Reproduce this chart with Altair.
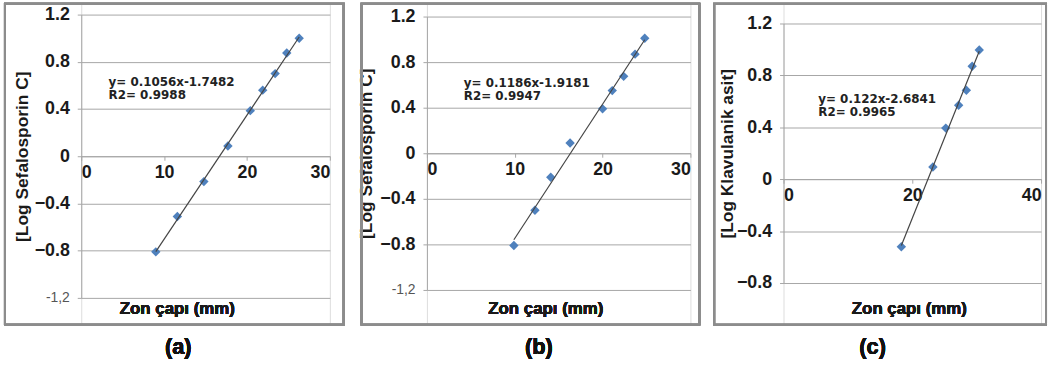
import altair as alt
import pandas as pd

# ---- data ----
a_x = [9.0, 11.6, 14.8, 17.7, 20.4, 21.9, 23.4, 24.8, 26.3]
a_y = [-0.81, -0.51, -0.215, 0.087, 0.386, 0.56, 0.70, 0.875, 1.0]
b_x = [9.9, 12.3, 14.1, 16.3, 20.0, 21.1, 22.4, 23.7, 24.8]
b_y = [-0.81, -0.50, -0.21, 0.09, 0.39, 0.55, 0.675, 0.87, 1.01]
c_x = [18.3, 23.2, 25.2, 27.2, 28.4, 29.3, 30.4]
c_y = [-0.52, 0.094, 0.394, 0.57, 0.686, 0.87, 0.996]

eq_a = ["y= 0.1056x-1.7482", "R2= 0.9988"]
eq_b = ["y= 0.1186x-1.9181", "R2= 0.9947"]
eq_c = ["y= 0.122x-2.6841", "R2= 0.9965"]

ytitle_a = "[Log Sefalosporin C]"
ytitle_b = "[Log Sefalosporin C]"
ytitle_c = "[Log Klavulanik asit]"
xtitle = "Zon çapı (mm)"
panel_labels = ["(a)", "(b)", "(c)"]

FONT = "Liberation Sans"
MARK = "#4f81bd"
GRID = "#a6a6a6"
H = 324  # group height = inner box height


def panel(xs, ys, eq, eq_pos, ytitle, xdom, xticks, ydom, yticks, w,
          yrange, box, xlab_x, plab, plab_x, title_pad):
    df = pd.DataFrame({"x": xs, "y": ys})
    frac0 = (0 - ydom[0]) / (ydom[1] - ydom[0])
    y0 = yrange[0] - (yrange[0] - yrange[1]) * frac0
    xaxis = alt.Axis(values=xticks, grid=False, offset=-(H - y0),
                     title=None, labelFont=FONT, labelFontSize=18,
                     labelFontWeight="bold", labelColor="#1a1a1a",
                     domainColor=GRID, tickColor=GRID, tickSize=4,
                     labelPadding=3)
    yaxis = alt.Axis(values=yticks, grid=True, gridColor=GRID, title=ytitle,
                     labelExpr="abs(datum.value + 1.2) < 0.01 ? '-1,2' : (datum.value == 0 ? '0' : format(datum.value, '.1f'))",
                     labelFont=FONT,
                     labelFontSize={"condition": {"test": "datum.value < -1", "value": 14}, "value": 18},
                     labelFontWeight={"condition": {"test": "datum.value < -1", "value": "normal"}, "value": "bold"},
                     labelColor={"condition": {"test": "datum.value < -1", "value": "#555"}, "value": "#1a1a1a"},
                     labelPadding=8, domainColor=GRID, tickColor=GRID,
                     tickSize=4, titleFont=FONT, titleFontSize=17.5,
                     titleFontWeight="bold", titleColor="#1a1a1a",
                     titlePadding=title_pad)
    xs_ = alt.Scale(domain=xdom, nice=False, zero=False)
    ys_ = alt.Scale(domain=ydom, nice=False, zero=False, range=list(yrange))
    base = alt.Chart(df)
    pts = base.mark_point(shape="diamond", filled=True, size=90,
                          color=MARK, opacity=1).encode(
        x=alt.X("x:Q", scale=xs_, axis=xaxis),
        y=alt.Y("y:Q", scale=ys_, axis=yaxis))
    line = base.transform_regression("x", "y").mark_line(
        color="#444", strokeWidth=1.2).encode(x="x:Q", y="y:Q")
    eqdf = pd.DataFrame({"x": [eq_pos[0]], "y": [eq_pos[1]],
                         "t": [eq[0] + "\n" + eq[1]]})
    eqt = alt.Chart(eqdf).mark_text(
        align="left", baseline="middle", font="DejaVu Sans", fontSize=12,
        fontWeight="bold", color="#222", lineBreak="\n",
        lineHeight=13).encode(x="x:Q", y="y:Q", text="t:N")
    rect = base.mark_rect(fill=None, stroke="#8c8c8c",
                          strokeWidth=2).encode(
        x=alt.value(box[0]), x2=alt.value(box[1]),
        y=alt.value(0), y2=alt.value(H))
    xl = base.mark_text(font=FONT, fontSize=17, fontWeight="bold",
                        color="#1a1a1a", baseline="middle").encode(
        x=alt.value(xlab_x), y=alt.value(H - 16),
        text=alt.value(xtitle))
    pl = base.mark_text(font=FONT, fontSize=22, fontWeight="bold",
                        color="#111", baseline="middle").encode(
        x=alt.value(plab_x), y=alt.value(H + 23),
        text=alt.value(plab))
    return alt.layer(pts, line, eqt, rect, xl, pl).properties(
        width=w, height=H)


pa = panel(a_x, a_y, eq_a, (3.3, 0.625), ytitle_a, [0, 30], [0, 10, 20, 30],
           [-1.2, 1.2], [-1.2, -0.8, -0.4, 0, 0.4, 0.8, 1.2], 251,
           (297, 11), (-77, 265), 97, panel_labels[0], 98, 3)
pb = panel(b_x, b_y, eq_b, (4.2, 0.615), ytitle_b, [0, 30], [0, 10, 20, 30],
           [-1.2, 1.2], [-1.2, -0.8, -0.4, 0, 0.4, 0.8, 1.2], 266,
           (289, 13), (-66, 275), 120, panel_labels[1], 113, 4)
pc = panel(c_x, c_y, eq_c, (5.4, 0.62), ytitle_c, [0, 40], [0, 20, 40],
           [-0.8, 1.2], [-0.8, -0.4, 0, 0.4, 0.8, 1.2], 260,
           (282, 20), (-70, 265), 127, panel_labels[2], 90, 0)

chart = alt.hconcat(pa, pb, pc, spacing=11).properties(
    padding={"left": 3, "top": 0, "right": 0, "bottom": 0}
).configure_view(stroke=None).configure(background="white")

chart.save("out.html", embed_options={"renderer": "svg", "actions": False})
